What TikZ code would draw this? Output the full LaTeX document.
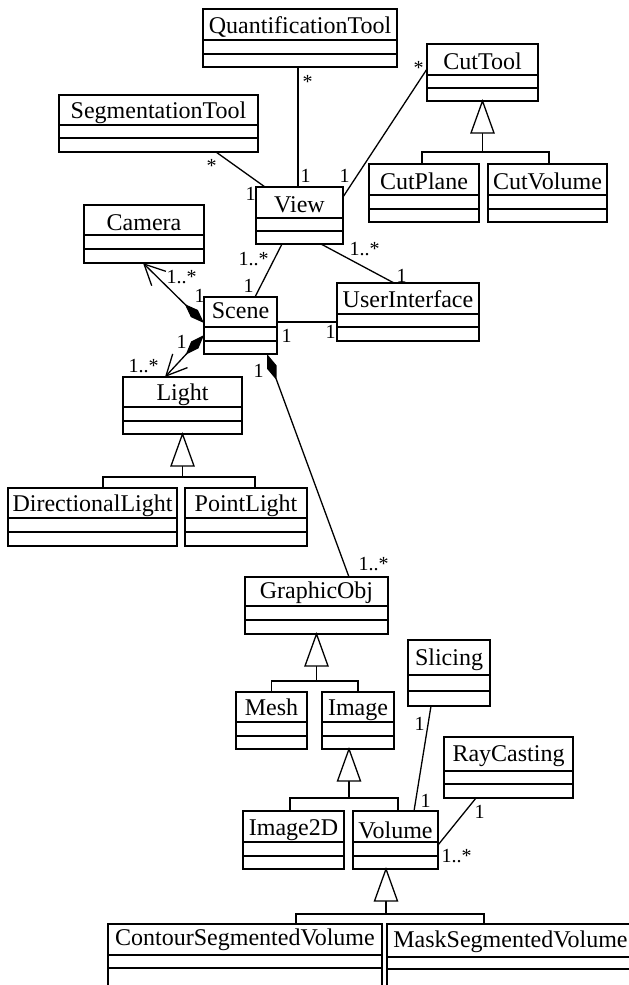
\documentclass[tikz,border=0pt]{standalone}
\usepackage{fontspec}
\setmainfont{Liberation Serif}
\usetikzlibrary{arrows.meta,calc}
\tikzset{
  clsbox/.style={draw, inner sep=0pt, outer sep=0pt},
  clsname/.style={anchor=base, inner sep=0pt, font=\fontsize{24}{28}\selectfont},
  lbl/.style={anchor=base west, inner sep=0pt, font=\fontsize{20}{24}\selectfont},
  gentri/.style={draw, fill=white, line join=miter},
  compo/.style={{Diamond[length=27pt,width=10pt]}-{Straight Barb[angle=52:23pt]}},
}
% #1 name, #2 x1, #3 y1, #4 x2, #5 y2, #6 divider1, #7 divider2, #8 baseline, #9 text
\newcommand\umlclass[9]{%
  \node[clsbox, minimum width={(#4-#2)*1pt}, minimum height={(#5-#3)*1pt}, anchor=north west] (#1) at (#2,#3) {};
  \draw (#2,#6) -- (#4,#6) (#2,#7) -- (#4,#7);
  \node[clsname] (#1-name) at ({(#2+#4)/2},#8) {#9};
}
\begin{document}
\begin{tikzpicture}[x=1pt,y=-1pt,line width=1.3pt]
\useasboundingbox (0,0) rectangle (629,985);
\fill[white] (0,0) rectangle (629,985);
\clip (0,0) rectangle (629,985);

% classes
\umlclass{quant}{203}{9}{397}{67}{40}{54}{33}{QuantificationTool}
\umlclass{cuttool}{427}{44}{538}{101}{75}{88}{69}{CutTool}
\umlclass{seg}{59}{95}{258}{152}{125}{138}{118}{SegmentationTool}
\umlclass{view}{256}{187}{343}{244}{218}{231}{212}{View}
\umlclass{cutplane}{369}{164}{479}{222}{195}{209}{189}{CutPlane}
\umlclass{cutvol}{488}{164}{607}{222}{195}{209}{189}{CutVolume}
\umlclass{camera}{84}{205}{204}{263}{235}{249}{230}{Camera}
\umlclass{scene}{204}{297}{277}{354}{327}{341}{318}{Scene}
\umlclass{ui}{337}{283}{479}{341}{314}{327}{307}{UserInterface}
\umlclass{light}{123}{377}{242}{434}{407}{421}{400}{Light}
\umlclass{dlight}{8}{488}{177}{546}{518}{532}{511}{DirectionalLight}
\umlclass{plight}{185}{488}{307}{546}{518}{532}{511}{PointLight}
\umlclass{gobj}{245}{577}{388}{634}{606}{620}{598}{GraphicObj}
\umlclass{mesh}{236}{692}{307}{749}{722}{736}{715}{Mesh}
\umlclass{image}{322}{692}{394}{749}{722}{736}{715}{Image}
\umlclass{slicing}{408}{640}{490}{706}{675}{691}{665}{Slicing}
\umlclass{ray}{444}{737}{573}{798}{771}{784}{761}{RayCasting}
\umlclass{imgtwod}{243}{811}{344}{869}{842}{856}{835}{Image2D}
\umlclass{volume}{353}{811}{438}{869}{842}{856}{838}{Volume}
\umlclass{contour}{108}{924}{382}{1000}{955}{968}{945}{ContourSegmentedVolume}
\umlclass{mask}{387}{924}{634}{1000}{957}{969}{947}{MaskSegmentedVolume}

% associations
\draw ($(quant.south west)+(95,0)$) -- ($(view.north west)+(42,0)$);
\draw ($(seg.south west)+(157,0)$) -- ($(view.north west)+(9,0)$);
\draw ($(cuttool.north west)+(0,25)$) -- ($(view.north east)+(0,10)$);
\draw ($(view.south west)+(26,0)$) -- ($(scene.north west)+(51,0)$);
\draw ($(view.south west)+(65,0)$) -- ($(ui.north west)+(57,0)$);
\draw ($(scene.north east)+(0,25)$) -- ($(ui.north west)+(0,39)$);
\draw[compo] ($(scene.north west)+(0,26)$) -- ($(camera.south west)+(59,0)$);
\draw[compo] ($(scene.north west)+(0,38)$) -- ($(light.north west)+(42,0)$);
\draw[{Diamond[length=28pt,width=10pt]}-] ($(scene.south west)+(63,0)$) -- ($(gobj.north west)+(104,0)$);
\draw ($(slicing.south west)+(23,0)$) -- ($(volume.north west)+(61,0)$);
\draw ($(ray.south west)+(32,0)$) -- ($(volume.north east)+(0,34)$);

% multiplicities
\node[lbl] (m1) at (302,88) {*};
\node[lbl] (m2) at (300,182) {1};
\node[lbl] (m3) at (206,172) {*};
\node[lbl] (m4) at (245,200) {1};
\node[lbl] (m5) at (413,74) {*};
\node[lbl] (m6) at (339,182) {1};
\node[lbl] (m7) at (238,265) {1..*};
\node[lbl] (m8) at (243,292) {1};
\node[lbl] (m9) at (349,255) {1..*};
\node[lbl] (m10) at (396,282) {1};
\node[lbl] (m11) at (281,342) {1};
\node[lbl] (m12) at (325,338) {1};
\node[lbl] (m13) at (166,283) {1..*};
\node[lbl] (m14) at (194,302) {1};
\node[lbl] (m15) at (176,348) {1};
\node[lbl] (m16) at (128,372) {1..*};
\node[lbl] (m17) at (253,377) {1};
\node[lbl] (m18) at (358,570) {1..*};
\node[lbl] (m19) at (414,730) {1};
\node[lbl] (m20) at (420,807) {1};
\node[lbl] (m21) at (474,818) {1};
\node[lbl] (m22) at (441,862) {1..*};

% generalizations
% CutTool
\coordinate (g1) at (cuttool.south);
\draw ($(g1)+(0,32)$) -- ++(0,19) coordinate (g1h);
\draw ($(cutplane.north west)+(53,0)$) |- (g1h) -| ($(cutvol.north west)+(61,0)$);
\draw[gentri] (g1) -- ++(-11.5,32) -- ++(23,0) -- cycle;
% Light
\coordinate (g2) at (light.south);
\draw ($(g2)+(0,32)$) -- ++(0,11) coordinate (g2h);
\draw ($(dlight.north west)+(95,0)$) |- (g2h) -| ($(plight.north west)+(70,0)$);
\draw[gentri] (g2) -- ++(-11.5,32) -- ++(23,0) -- cycle;
% GraphicObj
\coordinate (g3) at (gobj.south);
\draw ($(g3)+(0,32)$) -- ++(0,15) coordinate (g3h);
\draw (mesh.north) |- (g3h) -| (image.north);
\draw[gentri] (g3) -- ++(-11.5,32) -- ++(23,0) -- cycle;
% Image
\coordinate (g4) at ($(image.south west)+(27,0)$);
\draw ($(g4)+(0,32)$) -- ++(0,17) coordinate (g4h);
\draw ($(imgtwod.north west)+(47,0)$) |- (g4h) -| ($(volume.north west)+(45,0)$);
\draw[gentri] (g4) -- ++(-11.5,32) -- ++(23,0) -- cycle;
% Volume
\coordinate (g5) at ($(volume.south west)+(33,0)$);
\draw ($(g5)+(0,32)$) -- ++(0,13) coordinate (g5h);
\draw ($(contour.north west)+(188,0)$) |- (g5h) -| ($(mask.north west)+(97,0)$);
\draw[gentri] (g5) -- ++(-11.5,32) -- ++(23,0) -- cycle;
\end{tikzpicture}
\end{document}
